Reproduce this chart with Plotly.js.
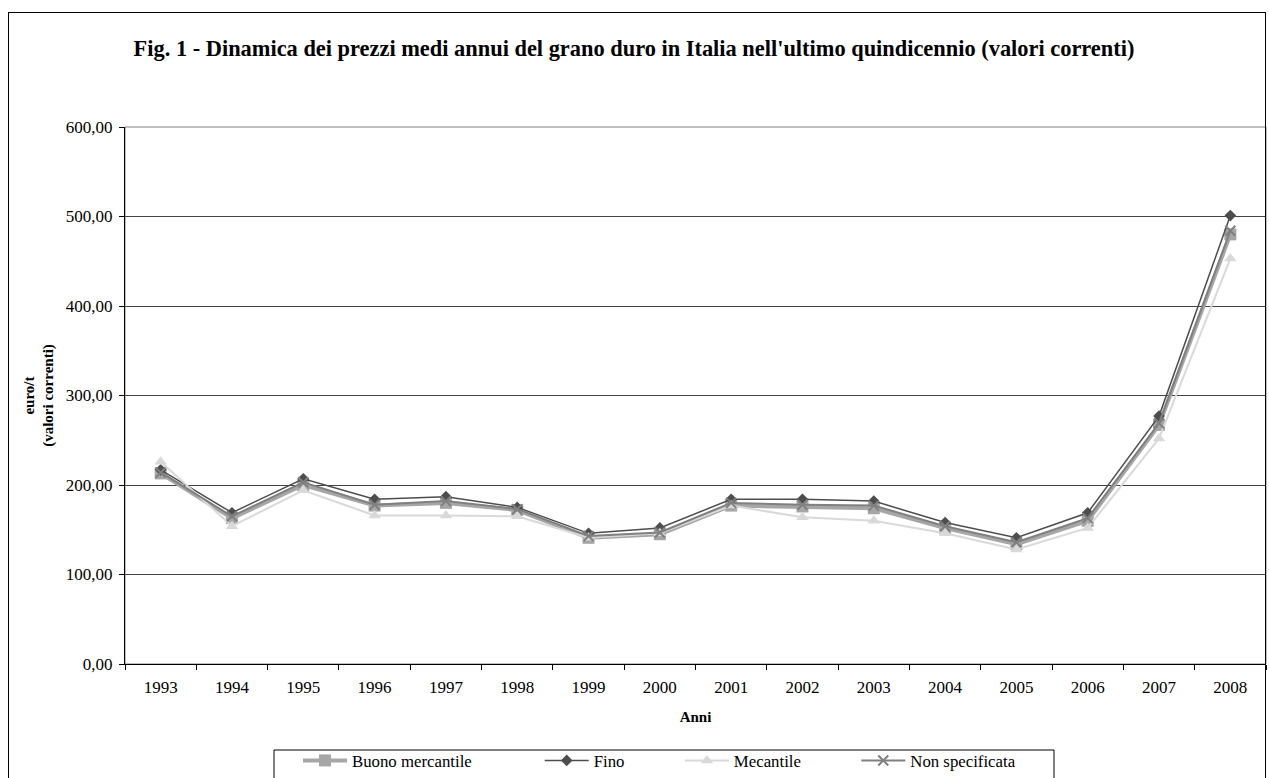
<!DOCTYPE html>
<html>
<head>
<meta charset="utf-8">
<script src="https://cdn.plot.ly/plotly-3.0.1.min.js"></script>
<style>
  html, body { margin: 0; padding: 0; background: #fff; }
  #wrap { position: relative; width: 1269px; height: 778px; overflow: hidden; }
  #chart { width: 1269px; height: 778px; }
  #frame {
    position: absolute; left: 8px; top: 12px; width: 1258px; height: 800px;
    border: 1px solid #000; pointer-events: none; box-sizing: border-box;
  }
</style>
</head>
<body>
<div id="wrap">
  <div id="chart"></div>
  <div id="frame"></div>
</div>
<script>
// Annual average prices of durum wheat (euro/t, current values)
const anni = ['1993','1994','1995','1996','1997','1998','1999','2000',
              '2001','2002','2003','2004','2005','2006','2007','2008'];
const buonoMercantile = [213, 163, 200, 177, 180, 172, 141, 145, 177, 176, 174, 152, 134, 160, 267, 480];
const fino            = [217, 169, 207, 184, 187, 175, 146, 152, 184, 184, 182, 158, 141, 169, 277, 501];
const mecantile       = [226, 154, 194, 166, 166, 165, 141, 146, 177, 164, 160, 146, 128, 152, 252, 453];
const nonSpecificata  = [214, 165, 203, 178, 182, 173, 143, 147, 180, 178, 177, 154, 136, 163, 269, 484];

const serif = 'Liberation Serif, Times New Roman, serif';
const nb = '\u00A0';

// plot area in pixels: x 125..1266, y 127..664
const W = 1269, H = 778;
const PL = 125, PR = 1266, PT = 127, PB = 664;
const px = v => (v - PL) / (PR - PL);
const py = v => (PB - v) / (PB - PT);

const traces = [
  {
    name: 'Buono mercantile' + nb.repeat(15), x: anni, y: buonoMercantile,
    type: 'scatter', mode: 'lines+markers',
    line: { color: '#a6a6a6', width: 4 },
    marker: { symbol: 'square', size: 12, color: '#a6a6a6' }
  },
  {
    name: 'Fino' + nb.repeat(12), x: anni, y: fino,
    type: 'scatter', mode: 'lines+markers',
    line: { color: '#4d4d4d', width: 1.5 },
    marker: { symbol: 'diamond', size: 9, color: '#4d4d4d' }
  },
  {
    name: 'Mecantile' + nb.repeat(12), x: anni, y: mecantile,
    type: 'scatter', mode: 'lines+markers',
    line: { color: '#d9d9d9', width: 2 },
    marker: { symbol: 'triangle-up', size: 11, color: '#d9d9d9' }
  },
  {
    name: 'Non specificata', x: anni, y: nonSpecificata,
    type: 'scatter', mode: 'lines+markers',
    line: { color: '#808080', width: 2 },
    marker: { symbol: 'x-thin', size: 10, line: { color: '#808080', width: 2 } }
  }
];

const layout = {
  width: W, height: H,
  margin: { l: PL, r: W - PR, t: PT, b: H - PB, autoexpand: false },
  paper_bgcolor: '#fff', plot_bgcolor: '#fff',
  separators: ',.',
  font: { family: serif, size: 17, color: '#000' },
  title: {
    text: "<b>Fig. 1 - Dinamica dei prezzi medi annui del grano duro in Italia nell'ultimo quindicennio (valori correnti)</b>",
    font: { family: serif, size: 22.4, color: '#000' },
    x: 634 / W, xref: 'container', xanchor: 'center',
    y: 1 - 48 / H, yref: 'container', yanchor: 'middle'
  },
  showlegend: true,
  legend: {
    orientation: 'h',
    x: px(298), xanchor: 'left',
    y: 1 - 743 / H, yref: 'container', yanchor: 'top',
    bgcolor: 'rgba(0,0,0,0)', borderwidth: 0,
    font: { family: serif, size: 16.8, color: '#000' },
    itemwidth: 44,
    traceorder: 'normal'
  },
  xaxis: {
    type: 'category',
    range: [-0.5, 15.5],
    tickson: 'boundaries',
    ticks: 'outside', ticklen: 5, tickcolor: '#000',
    ticklabelstandoff: 8,
    showline: true, linecolor: '#000', linewidth: 1,
    showgrid: false, zeroline: false,
    tickfont: { family: serif, size: 17, color: '#000' },
    title: { text: '<b>Anni</b>', font: { family: serif, size: 15, color: '#000' }, standoff: 15 }
  },
  yaxis: {
    range: [0, 600], dtick: 100, tick0: 0,
    tickformat: '.2f',
    ticks: 'outside', ticklen: 5, tickcolor: '#000',
    ticklabelstandoff: 3,
    showline: true, linecolor: '#000', linewidth: 1,
    showgrid: true, gridcolor: '#444', gridwidth: 1,
    zeroline: false,
    tickfont: { family: serif, size: 17, color: '#000' },
    title: { text: '<b>euro/t<br>(valori correnti)</b>', font: { family: serif, size: 15, color: '#000' }, standoff: 8 }
  },
  shapes: [
    // plot area border
    { type: 'rect', xref: 'paper', yref: 'paper', x0: 0, x1: 1, y0: 0, y1: 1,
      line: { color: '#808080', width: 1 }, layer: 'below' },
    // legend box
    { type: 'rect', xref: 'paper', yref: 'paper',
      x0: px(274), x1: px(1054), y0: py(790), y1: py(750),
      line: { color: '#000', width: 1 }, fillcolor: 'rgba(0,0,0,0)' }
  ]
};

Plotly.newPlot('chart', traces, layout, { displayModeBar: false, staticPlot: true });
</script>
</body>
</html>
